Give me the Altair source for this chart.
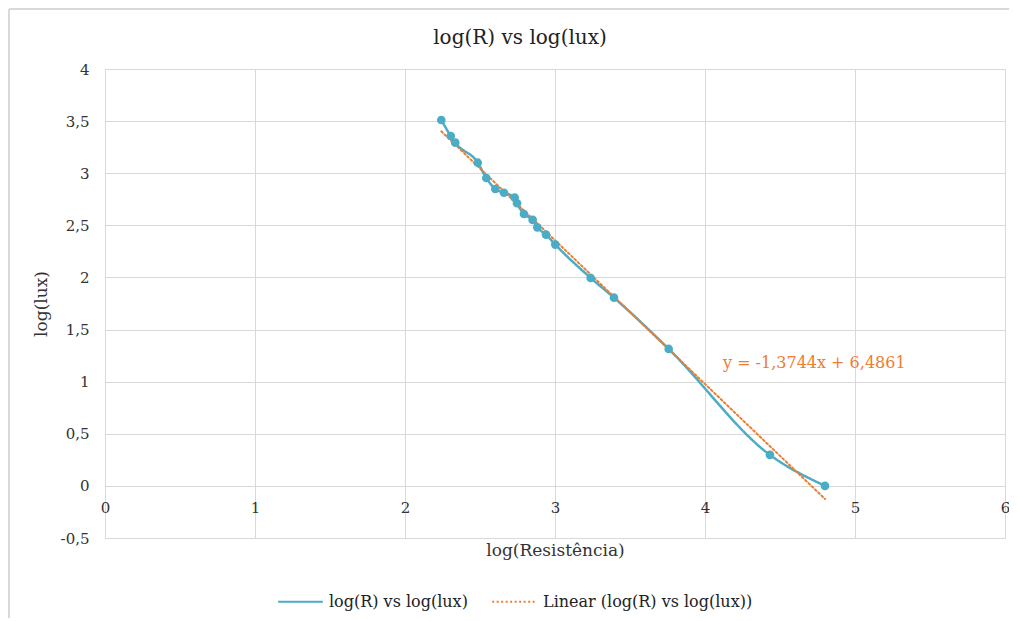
import altair as alt
import pandas as pd

# Data
log_r = [2.242, 2.305, 2.335, 2.485, 2.542, 2.602, 2.660, 2.731, 2.747, 2.793,
         2.851, 2.882, 2.940, 3.002, 3.238, 3.393, 3.758, 4.433, 4.800]
log_lux = [3.511, 3.357, 3.293, 3.101, 2.954, 2.849, 2.813, 2.766, 2.712, 2.609,
           2.552, 2.481, 2.411, 2.315, 1.995, 1.806, 1.314, 0.297, 0.000]

series_names = ["log(R) vs log(lux)", "Linear (log(R) vs log(lux))"]
series_colors = ["#4BACC6", "#ED7D31"]
series_dash = [[1, 0], [2, 2.5]]

eq_text = ["y = -1,3744x + 6,4861"]
eq_x = [4.12]
eq_y = [1.18]

x_ticks = [0, 1, 2, 3, 4, 5, 6]
y_ticks = [-0.5, 0, 0.5, 1, 1.5, 2, 2.5, 3, 3.5, 4]

df = pd.DataFrame({"log_r": log_r, "log_lux": log_lux, "series": series_names[0]})
eq_df = pd.DataFrame({"x": eq_x, "y": eq_y, "t": eq_text})

FONT = "DejaVu Serif"
comma = "replace(replace(format(datum.value, ''), '.', ','), '\u2212', '-')"

xscale = alt.Scale(domain=[0, 6], nice=False, zero=False)
yscale = alt.Scale(domain=[-0.5, 4], nice=False, zero=False)

color = alt.Color("series:N",
                  scale=alt.Scale(domain=series_names, range=series_colors),
                  legend=alt.Legend(title=None, orient="none", legendX=172, legendY=509,
                                    direction="horizontal", symbolType="stroke",
                                    symbolSize=2000, symbolStrokeWidth=2,
                                    labelFont=FONT, labelFontSize=16, labelColor="#222",
                                    labelOffset=5, columnPadding=20, labelLimit=400))
dash = alt.StrokeDash("series:N",
                      scale=alt.Scale(domain=series_names, range=series_dash),
                      legend=None)

x_enc = alt.X("log_r:Q", scale=xscale,
              axis=alt.Axis(title="log(Resistência)", values=x_ticks, labelExpr=comma,
                            offset=-52, domain=False, ticks=False, labelPadding=14,
                            titleY=64, titleBaseline="middle", labelFlush=False))
y_enc = alt.Y("log_lux:Q", scale=yscale,
              axis=alt.Axis(title="log(lux)", values=y_ticks, labelExpr=comma,
                            domain=False, ticks=False, labelPadding=16, titlePadding=10))

line = alt.Chart(df).mark_line(interpolate="monotone", strokeWidth=2.5).encode(
    x=x_enc, y=y_enc, color=color, strokeDash=dash)

points = alt.Chart(df).mark_circle(size=75, opacity=1, color=series_colors[0]).encode(
    x="log_r:Q", y="log_lux:Q")

trend = alt.Chart(df).transform_regression("log_r", "log_lux").transform_calculate(
    series=f"'{series_names[1]}'"
).mark_line(strokeWidth=2, strokeCap="round").encode(
    x="log_r:Q", y="log_lux:Q", color=color, strokeDash=dash)

eq = alt.Chart(eq_df).mark_text(align="left", baseline="middle", font=FONT,
                                fontSize=16, color=series_colors[1]).encode(
    x=alt.X("x:Q", scale=xscale), y=alt.Y("y:Q", scale=yscale), text="t:N")

# chart-area frame (top and left edges, as in the reference)
frame_top = alt.Chart(df).mark_rule(color="#D9D9D9", strokeWidth=1.5).encode(
    x=alt.value(-96), x2=alt.value(1010), y=alt.value(-60))
frame_left = alt.Chart(df).mark_rule(color="#D9D9D9", strokeWidth=1.5).encode(
    x=alt.value(-96), y=alt.value(-60), y2=alt.value(560))

chart = alt.layer(frame_top, frame_left, line, trend, points, eq).properties(
    width=900, height=469,
    title=alt.TitleParams("log(R) vs log(lux)", font=FONT, fontSize=20,
                          fontWeight="normal", color="#222", dx=-35, offset=-40),
    autosize=alt.AutoSizeParams(type="none"),
    padding={"left": 97, "top": 61, "right": 4, "bottom": 80},
).configure_axis(
    labelFont=FONT, labelFontSize=15, labelColor="#333",
    titleFont=FONT, titleFontSize=17, titleFontWeight="normal", titleColor="#333",
    gridColor="#D9D9D9", gridWidth=1, gridOpacity=1,
).configure_view(stroke="#D9D9D9", strokeWidth=1)

chart.save("out.html", embed_options={"renderer": "svg", "actions": False})
